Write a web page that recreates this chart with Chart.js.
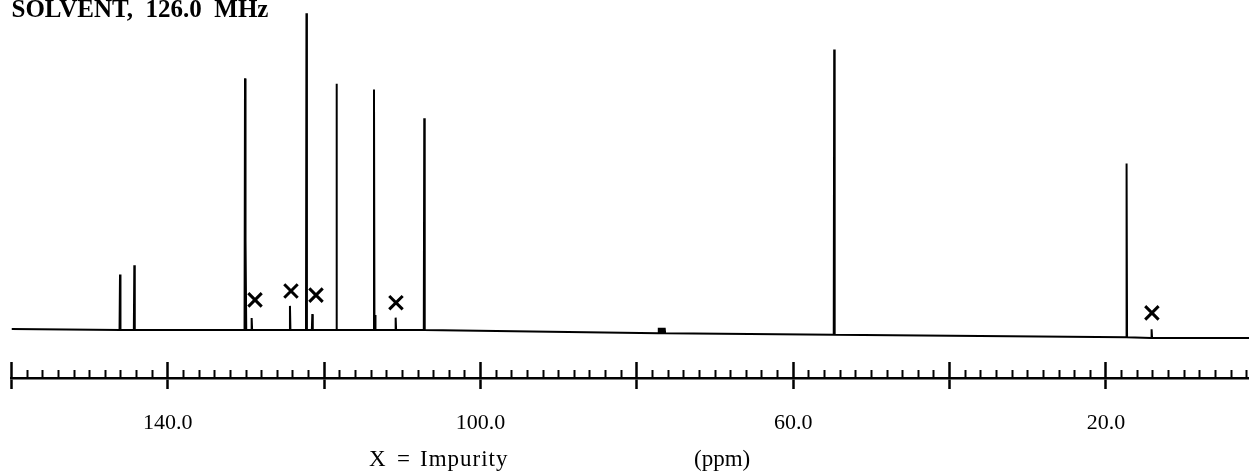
<!DOCTYPE html>
<html>
<head>
<meta charset="utf-8">
<script src="https://cdn.jsdelivr.net/npm/chart.js@4/dist/chart.umd.min.js"></script>
<style>
  html, body { margin: 0; padding: 0; background: #fff; }
</style>
</head>
<body>
<canvas id="spectrum" width="1249" height="474"></canvas>
<script>
// 13C peaks: position (ppm), top of the peak, baseline level under it
var peakPpm  = [146.12, 144.29, 130.13, 130.03, 129.28, 124.38, 122.27, 121.52, 118.43, 113.63, 113.5, 110.86, 107.2, 77.2, 76.95, 76.7, 76.45, 54.76, 17.36, 14.16];
var peakTop  = [17.5, 20.4, 79.3, 28.3, 3.8, 7.6, 99.8, 5.0, 77.6, 75.8, 4.7, 3.9, 66.7, 0.7, 0.7, 0.7, 0.7, 88.4, 52.5, 0.2];
var peakBase = [0, 0, 0, 0, 0, 0, 0, 0, 0, 0, 0, 0, 0, -1.0, -1.0, -1.0, -1.0, -1.5, -2.3, -2.5];

// baseline at both ends of the trace
var edgePpm  = [160, 1.7];
var edgeBase = [0.3, -2.5];

// "x" marks over the impurity lines
var impurityPpm  = [128.85, 124.25, 121.05, 110.82, 14.12];
var impurityMark = [9.5, 12.3, 11.0, 8.6, 5.4];

// ruler
var majorTicks = [160, 140, 120, 100, 80, 60, 40, 20];
var labelledTicks = [140, 100, 60, 20];
var minorStep = 2;

// build the trace: each line goes base -> top -> base
var halfWidth = 0.06;
var spectrum = [{x: edgePpm[0], y: edgeBase[0]}];
for (var i = 0; i < peakPpm.length; i++) {
  spectrum.push({x: peakPpm[i] + halfWidth, y: peakBase[i]});
  spectrum.push({x: peakPpm[i], y: peakTop[i]});
  spectrum.push({x: peakPpm[i] - halfWidth, y: peakBase[i]});
}
spectrum.push({x: edgePpm[1], y: edgeBase[1]});

var marks = impurityPpm.map(function (p, i) { return {x: p, y: impurityMark[i]}; });

var minorTicks = [];
for (var v = majorTicks[0]; v > edgePpm[1]; v -= minorStep) minorTicks.push(v);

var serif = '"Liberation Serif", "Times New Roman", serif';

// axis caption under the ruler (typeset with wide gaps, as in the original)
var caption = {
  id: 'caption',
  afterDraw: function (chart) {
    var ctx = chart.ctx;
    ctx.save();
    ctx.fillStyle = '#000';
    ctx.font = '23px ' + serif;
    ctx.textBaseline = 'middle';
    ctx.fillText('X', 369, 460);
    ctx.fillText('=', 397, 460);
    ctx.letterSpacing = '1px';
    ctx.fillText('Impurity', 420, 460);
    ctx.letterSpacing = '0px';
    ctx.fillText('(ppm)', 694, 460);
    ctx.restore();
  }
};

function tickScale(weight, values, len, width) {
  return {
    type: 'linear', position: 'bottom', reverse: true, weight: weight,
    min: edgePpm[1], max: edgePpm[0],
    afterBuildTicks: function (s) { s.ticks = values.map(function (t) { return {value: t}; }); },
    ticks: {display: false},
    border: {display: false},
    grid: {drawOnChartArea: false, tickLength: len, tickWidth: width, tickColor: '#000'}
  };
}

var config = {
  type: 'line',
  data: {
    datasets: [{
      data: spectrum,
      borderColor: '#000',
      borderWidth: 2,
      pointRadius: 0,
      tension: 0,
      fill: false
    }, {
      type: 'scatter',
      data: marks,
      pointStyle: 'crossRot',
      pointRadius: 9.5,
      borderWidth: 3,
      borderColor: '#000',
      backgroundColor: '#000'
    }]
  },
  options: {
    responsive: false,
    animation: false,
    events: [],
    layout: {autoPadding: false, padding: {left: 11.5, right: 0, top: 0, bottom: 17}},
    scales: {
      x: tickScale(0, majorTicks, 8, 2.5),
      xMinor: tickScale(1, minorTicks, 8, function (c) { return c.tick.value % 20 === 0 ? 2.5 : 2; }),
      xMain: {
        type: 'linear', position: 'bottom', reverse: true, weight: 2,
        min: edgePpm[1], max: edgePpm[0],
        afterBuildTicks: function (s) { s.ticks = majorTicks.map(function (t) { return {value: t}; }); },
        border: {display: true, color: '#000', width: 2.5},
        grid: {drawOnChartArea: false, tickLength: 11, tickWidth: 2.5, tickColor: '#000'},
        ticks: {
          color: '#000', padding: 0, maxRotation: 0, autoSkip: false,
          font: {family: serif, size: 22, lineHeight: 3.09},
          callback: function (val) { return labelledTicks.indexOf(val) >= 0 ? val.toFixed(1) : ''; }
        }
      },
      y: {display: false, min: -10.09, max: 104}
    },
    plugins: {
      legend: {display: false},
      tooltip: {enabled: false},
      title: {
        display: true,
        text: 'SOLVENT,  126.0  MHz',
        align: 'start',
        color: '#000',
        font: {family: serif, size: 25, weight: 'bold', lineHeight: 1},
        padding: {top: -2, bottom: -23}
      }
    }
  },
  plugins: [caption]
};

var chart = new Chart(document.getElementById('spectrum'), config);
</script>
</body>
</html>
